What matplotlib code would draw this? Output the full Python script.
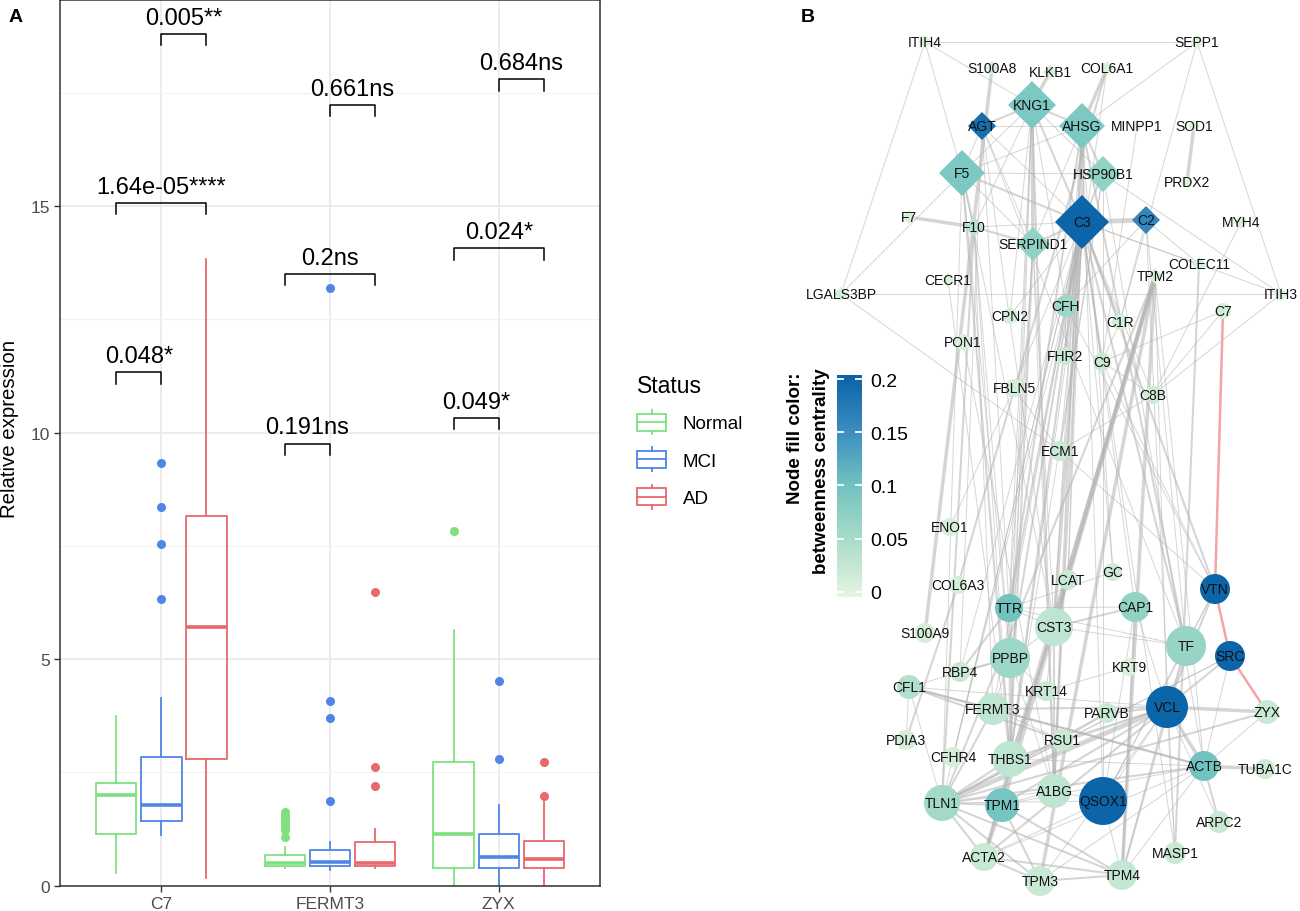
import numpy as np
import matplotlib
matplotlib.use('Agg')
import matplotlib.pyplot as plt
from matplotlib.colors import LinearSegmentedColormap, Normalize
from matplotlib.cm import ScalarMappable
from matplotlib.legend_handler import HandlerBase
from matplotlib.patches import Rectangle, Patch
from matplotlib.lines import Line2D

plt.rcParams['font.family'] = ['Liberation Sans', 'DejaVu Sans']

# ---------------- Panel A data ----------------
genes = ['C7', 'FERMT3', 'ZYX']
status = ['Normal', 'MCI', 'AD']
status_colors = ['#7FE07F', '#4F86E6', '#E8686B']

# whislo, q1, median, q3, whishi for Normal, MCI, AD
c7_stats = [[0.28, 1.15, 2.00, 2.26, 3.75],
            [1.12, 1.43, 1.78, 2.83, 4.15],
            [0.18, 2.79, 5.70, 8.16, 13.84]]
fermt3_stats = [[0.40, 0.43, 0.51, 0.68, 0.85],
                [0.35, 0.43, 0.53, 0.79, 0.96],
                [0.40, 0.44, 0.51, 0.96, 1.25]]
zyx_stats = [[0.00, 0.38, 1.15, 2.72, 5.64],
             [0.00, 0.38, 0.63, 1.15, 1.78],
             [0.00, 0.40, 0.60, 0.99, 1.84]]
c7_outliers = [[], [9.34, 8.35, 7.55, 6.33], []]
fermt3_outliers = [[1.07, 1.22, 1.30, 1.38, 1.45, 1.52, 1.58, 1.62],
                   [13.2, 4.07, 3.70, 1.86],
                   [6.49, 2.61, 2.21]]
zyx_outliers = [[7.83], [4.52, 2.79], [2.72, 1.99]]

# significance brackets: gene index, status a, status b, height, label
br_gene = [0, 0, 0, 1, 1, 1, 2, 2, 2]
br_a = [0, 0, 1, 0, 0, 1, 0, 0, 1]
br_b = [1, 2, 2, 1, 2, 2, 1, 2, 2]
br_y = [11.33, 15.07, 18.80, 9.76, 13.50, 17.23, 10.32, 14.07, 17.80]
br_label = ['0.048*', '1.64e-05****', '0.005**',
            '0.191ns', '0.2ns', '0.661ns',
            '0.049*', '0.024*', '0.684ns']

# ---------------- Panel B data ----------------
node_name = ['ITIH4', 'SEPP1', 'S100A8', 'KLKB1', 'COL6A1', 'KNG1', 'AGT', 'AHSG',
             'MINPP1', 'SOD1', 'F5', 'HSP90B1', 'PRDX2', 'F7', 'F10', 'C3', 'C2',
             'SERPIND1', 'MYH4', 'CECR1', 'TPM2', 'COLEC11', 'LGALS3BP', 'ITIH3',
             'CFH', 'CPN2', 'C1R', 'C7', 'PON1', 'FHR2', 'C9', 'FBLN5', 'C8B', 'ECM1',
             'ENO1', 'COL6A3', 'LCAT', 'GC', 'VTN', 'TTR', 'CAP1', 'CST3', 'S100A9',
             'TF', 'SRC', 'PPBP', 'RBP4', 'KRT9', 'CFL1', 'KRT14', 'FERMT3', 'VCL',
             'PARVB', 'ZYX', 'PDIA3', 'RSU1', 'CFHR4', 'THBS1', 'ACTB', 'TUBA1C',
             'A1BG', 'QSOX1', 'TLN1', 'TPM1', 'ARPC2', 'MASP1', 'ACTA2', 'TPM4', 'TPM3']
node_x = [925, 1197, 992, 1050, 1107, 1032, 982, 1082,
          1137, 1194, 962, 1103, 1187, 909, 974, 1082, 1146,
          1033, 1241, 948, 1155, 1199, 841, 1281,
          1066, 1010, 1120, 1223, 963, 1065, 1102, 1014, 1153, 1060,
          950, 958, 1068, 1113, 1215, 1009, 1135, 1054, 925,
          1186, 1230, 1010, 960, 1129, 909, 1046, 993, 1167,
          1107, 1267, 906, 1062, 953, 1010, 1204, 1265,
          1054, 1103, 942, 1002, 1219, 1175, 984, 1122, 1040]
node_y = [43, 43, 69, 73, 69, 106, 127, 127,
          127, 127, 174, 175, 183, 218, 228, 223, 221,
          245, 223, 281, 277, 265, 295, 295,
          307, 317, 323, 312, 343, 357, 363, 389, 396, 452,
          528, 586, 581, 573, 590, 609, 608, 628, 634,
          647, 657, 659, 673, 668, 688, 692, 710, 708,
          714, 713, 741, 741, 758, 760, 767, 770,
          792, 802, 804, 806, 823, 854, 858, 876, 882]
node_diamond = [1] * 24 + [0] * 45
# half-diagonal (diamonds) or radius (circles), in layout units
node_size = [7, 7, 7, 7, 7, 24, 14, 23,
             6, 6, 23, 18, 6, 7, 10, 27, 14,
             17, 7, 7, 8, 7, 7, 7,
             11, 8, 8, 8, 8, 9, 9, 9, 9, 10,
             9, 9, 10, 9, 15, 14, 15, 19, 10,
             20, 15, 20, 10, 9, 12, 10, 16, 21,
             10, 12, 10, 11, 10, 18, 15, 10,
             17, 24, 18, 17, 11, 11, 14, 15, 15]
betweenness = [0.005, 0.005, 0.005, 0.005, 0.005, 0.09, 0.19, 0.09,
               0.0, 0.0, 0.09, 0.07, 0.0, 0.01, 0.035, 0.2, 0.16,
               0.07, 0.005, 0.005, 0.01, 0.01, 0.01, 0.005,
               0.06, 0.01, 0.01, 0.01, 0.005, 0.02, 0.02, 0.01, 0.015, 0.02,
               0.01, 0.01, 0.02, 0.015, 0.2, 0.1, 0.07, 0.03, 0.01,
               0.065, 0.2, 0.06, 0.02, 0.005, 0.04, 0.02, 0.03, 0.2,
               0.02, 0.02, 0.01, 0.02, 0.01, 0.03, 0.1, 0.015,
               0.03, 0.2, 0.055, 0.095, 0.02, 0.02, 0.02, 0.025, 0.02]

edges = [
    ('ITIH4', 'SEPP1', 1), ('ITIH4', 'LGALS3BP', 1), ('ITIH4', 'F5', 1), ('ITIH4', 'KNG1', 1),
    ('SEPP1', 'ITIH3', 1), ('SEPP1', 'AHSG', 1), ('SEPP1', 'C1R', 1),
    ('LGALS3BP', 'ITIH3', 1), ('LGALS3BP', 'ECM1', 1), ('LGALS3BP', 'F5', 1),
    ('ITIH3', 'C8B', 1), ('ITIH3', 'HSP90B1', 1), ('MYH4', 'C8B', 1),
    ('SOD1', 'PRDX2', 3), ('MINPP1', 'C9', 1),
    ('C7', 'C9', 1), ('C7', 'C8B', 1),
    ('C3', 'C2', 4), ('C3', 'CFH', 4), ('C3', 'KNG1', 2), ('C3', 'AHSG', 3), ('C3', 'F5', 2),
    ('C3', 'HSP90B1', 2), ('C3', 'SERPIND1', 2), ('C3', 'AGT', 1), ('C3', 'F10', 1),
    ('C3', 'C1R', 2), ('C3', 'C9', 2), ('C3', 'FHR2', 2), ('C3', 'C8B', 1), ('C3', 'CPN2', 1),
    ('C3', 'CST3', 3), ('C3', 'TTR', 2), ('C3', 'THBS1', 2), ('C3', 'PPBP', 2), ('C3', 'TF', 2),
    ('C3', 'A1BG', 2), ('C3', 'LCAT', 1), ('C3', 'FBLN5', 1), ('C3', 'CFHR4', 1), ('C3', 'ECM1', 1),
    ('C3', 'GC', 1), ('C3', 'VTN', 2), ('C3', 'RBP4', 1), ('C3', 'CAP1', 1), ('C3', 'FERMT3', 1),
    ('C3', 'TLN1', 1), ('C3', 'COLEC11', 1), ('C3', 'MASP1', 1), ('C3', 'ITIH3', 1),
    ('KNG1', 'AGT', 2), ('KNG1', 'KLKB1', 3), ('KNG1', 'AHSG', 2), ('KNG1', 'SERPIND1', 3),
    ('KNG1', 'F5', 1), ('KNG1', 'F10', 1), ('KNG1', 'CFH', 1), ('KNG1', 'A1BG', 2),
    ('KNG1', 'THBS1', 1), ('KNG1', 'PPBP', 1), ('KNG1', 'TTR', 1), ('KNG1', 'HSP90B1', 1),
    ('AHSG', 'COL6A1', 3), ('AHSG', 'HSP90B1', 2), ('AHSG', 'F5', 1), ('AHSG', 'TTR', 2),
    ('AHSG', 'CST3', 1), ('AHSG', 'A1BG', 2), ('AHSG', 'TF', 2), ('AHSG', 'SERPIND1', 1),
    ('AHSG', 'FHR2', 1), ('AHSG', 'LCAT', 1), ('AHSG', 'GC', 1), ('AHSG', 'AGT', 1),
    ('AHSG', 'QSOX1', 1),
    ('F5', 'F10', 2), ('F5', 'SERPIND1', 1), ('F5', 'THBS1', 2), ('F5', 'PPBP', 1),
    ('F5', 'TLN1', 1), ('F5', 'HSP90B1', 1), ('F5', 'AGT', 1), ('F5', 'CST3', 1),
    ('AGT', 'SERPIND1', 1), ('AGT', 'TTR', 1), ('AGT', 'RBP4', 1), ('AGT', 'CST3', 1),
    ('AGT', 'TF', 1), ('S100A8', 'S100A9', 3),
    ('HSP90B1', 'THBS1', 1), ('HSP90B1', 'ECM1', 1), ('HSP90B1', 'ACTB', 1), ('HSP90B1', 'QSOX1', 1),
    ('F10', 'F7', 3), ('F10', 'SERPIND1', 2), ('F10', 'TLN1', 2), ('F10', 'THBS1', 1),
    ('F10', 'FERMT3', 1), ('F10', 'PPBP', 1),
    ('SERPIND1', 'THBS1', 2), ('SERPIND1', 'CST3', 1), ('SERPIND1', 'A1BG', 1),
    ('SERPIND1', 'PPBP', 1), ('SERPIND1', 'TTR', 1),
    ('C2', 'CFH', 1), ('C2', 'TF', 1), ('C2', 'MASP1', 1), ('C2', 'C1R', 1), ('C2', 'COLEC11', 1),
    ('TPM2', 'TPM1', 4), ('TPM2', 'TPM3', 3), ('TPM2', 'TPM4', 3), ('TPM2', 'ACTA2', 3),
    ('TPM2', 'TLN1', 2), ('TPM2', 'VCL', 1), ('TPM2', 'ACTB', 1), ('TPM2', 'CST3', 2),
    ('TPM2', 'THBS1', 1),
    ('VCL', 'ZYX', 3), ('VCL', 'TLN1', 4), ('VCL', 'ACTB', 3), ('VCL', 'PARVB', 2), ('VCL', 'SRC', 2),
    ('VCL', 'TPM1', 2), ('VCL', 'THBS1', 2), ('VCL', 'ACTA2', 2), ('VCL', 'QSOX1', 1),
    ('VCL', 'FERMT3', 2), ('VCL', 'RSU1', 1), ('VCL', 'TPM4', 1), ('VCL', 'TF', 1),
    ('VCL', 'MASP1', 1), ('VCL', 'CFL1', 1), ('VCL', 'TPM3', 1), ('VCL', 'ARPC2', 1),
    ('VCL', 'VTN', 2), ('VCL', 'CAP1', 1),
    ('TLN1', 'TPM1', 2), ('TLN1', 'ACTA2', 2), ('TLN1', 'TPM3', 2), ('TLN1', 'TPM4', 2),
    ('TLN1', 'ZYX', 2), ('TLN1', 'ACTB', 2), ('TLN1', 'FERMT3', 2), ('TLN1', 'THBS1', 2),
    ('TLN1', 'RSU1', 1), ('TLN1', 'A1BG', 1), ('TLN1', 'QSOX1', 1), ('TLN1', 'PARVB', 2),
    ('TLN1', 'SRC', 1), ('TLN1', 'CFL1', 1),
    ('ACTB', 'TUBA1C', 3), ('ACTB', 'ARPC2', 2), ('ACTB', 'CFL1', 2), ('ACTB', 'TPM1', 1),
    ('ACTB', 'ACTA2', 1), ('ACTB', 'TPM3', 1), ('ACTB', 'TPM4', 1), ('ACTB', 'THBS1', 1),
    ('ACTB', 'FERMT3', 2), ('ACTB', 'ZYX', 1), ('ACTB', 'SRC', 1),
    ('TPM1', 'TPM3', 2), ('TPM1', 'TPM4', 2), ('TPM1', 'ACTA2', 3), ('TPM1', 'A1BG', 1),
    ('TPM1', 'THBS1', 1), ('TPM3', 'TPM4', 2), ('TPM3', 'ACTA2', 2), ('TPM4', 'ACTA2', 2),
    ('TPM4', 'TF', 2), ('TPM4', 'CAP1', 2), ('TPM4', 'QSOX1', 1),
    ('ACTA2', 'THBS1', 1), ('ACTA2', 'QSOX1', 1),
    ('PPBP', 'THBS1', 3), ('PPBP', 'TTR', 2), ('PPBP', 'RBP4', 2), ('PPBP', 'CST3', 1),
    ('PPBP', 'A1BG', 1), ('PPBP', 'FERMT3', 1), ('PPBP', 'KRT14', 1),
    ('TTR', 'RBP4', 2), ('TTR', 'CST3', 1), ('TTR', 'CAP1', 1), ('TTR', 'TF', 1),
    ('CST3', 'CAP1', 2), ('CST3', 'TF', 1), ('CST3', 'A1BG', 2), ('CST3', 'THBS1', 2),
    ('CST3', 'KRT14', 1), ('CST3', 'LCAT', 2),
    ('CFL1', 'FERMT3', 2), ('CFL1', 'RSU1', 2), ('CFL1', 'PDIA3', 1), ('CFL1', 'PPBP', 1),
    ('PDIA3', 'COL6A3', 2), ('COL6A1', 'COL6A3', 2), ('COL6A1', 'THBS1', 1),
    ('KRT9', 'KRT14', 1), ('RSU1', 'PARVB', 1), ('RSU1', 'FERMT3', 1),
    ('ECM1', 'C8B', 1), ('ECM1', 'VTN', 1), ('ECM1', 'FBLN5', 1),
    ('VTN', 'TF', 1), ('VTN', 'QSOX1', 1), ('VTN', 'C9', 1), ('VTN', 'CFH', 1),
    ('SRC', 'TLN1', 1), ('QSOX1', 'TF', 1), ('QSOX1', 'CAP1', 1), ('QSOX1', 'A1BG', 1),
    ('C9', 'C8B', 1), ('COLEC11', 'MASP1', 2),
    ('CECR1', 'THBS1', 1), ('PON1', 'A1BG', 1), ('CPN2', 'KNG1', 1), ('ENO1', 'FBLN5', 1),
    ('GC', 'TTR', 1), ('CFHR4', 'CFH', 1), ('FHR2', 'CFH', 1), ('C1R', 'C9', 1),
]
pink_edges = [('C7', 'VTN'), ('VTN', 'SRC'), ('SRC', 'ZYX')]

# ---------------- Figure ----------------
W, H = 1300, 912
fig = plt.figure(figsize=(W / 100, H / 100), dpi=100)

# Panel A
ax = fig.add_axes([60 / W, 25 / H, 540 / W, 886 / H])
all_stats = [c7_stats, fermt3_stats, zyx_stats]
all_out = [c7_outliers, fermt3_outliers, zyx_outliers]
dodge = 0.267
for g in range(len(genes)):
    for s in range(len(status)):
        lo, q1, med, q3, hi = all_stats[g][s]
        c = status_colors[s]
        st = dict(whislo=lo, q1=q1, med=med, q3=q3, whishi=hi, fliers=all_out[g][s])
        ax.bxp([st], positions=[g + 1 + (s - 1) * dodge], widths=0.24, showcaps=False,
               boxprops=dict(color=c, lw=1.3), whiskerprops=dict(color=c, lw=1.3),
               medianprops=dict(color=c, lw=2.6),
               flierprops=dict(marker='o', markerfacecolor=c, markeredgecolor='none',
                               markersize=6.5), manage_ticks=False)

for g, a, b, y, lab in zip(br_gene, br_a, br_b, br_y, br_label):
    x1 = g + 1 + (a - 1) * dodge
    x2 = g + 1 + (b - 1) * dodge
    ax.plot([x1, x1, x2, x2], [y - 0.25, y, y, y - 0.25], color='black', lw=1.1)
    ax.text((x1 + x2) / 2, y + 0.12, lab, ha='center', va='bottom', fontsize=17)

ax.set_xlim(0.4, 3.6)
ax.set_ylim(-0.007, 19.55)
ax.set_xticks([1, 2, 3])
ax.set_xticklabels(genes)
ax.set_yticks([0, 5, 10, 15])
ax.set_yticks([2.5, 7.5, 12.5, 17.5], minor=True)
ax.grid(which='major', color='#EBEBEB', lw=1.3)
ax.grid(which='minor', axis='y', color='#F2F2F2', lw=0.8)
ax.set_axisbelow(True)
ax.tick_params(which='major', length=4, width=1, color='#333333', labelcolor='#4D4D4D',
               labelsize=12.5, pad=3)
ax.tick_params(which='minor', length=0)
for sp in ax.spines.values():
    sp.set_color('#333333')
    sp.set_linewidth(1.1)
fig.text(10 / W, 1 - 429 / H, 'Relative expression', rotation=90, ha='center', va='center',
         fontsize=14.7)


class BoxKey(HandlerBase):
    def create_artists(self, legend, orig_handle, xdescent, ydescent, width, height,
                       fontsize, trans):
        c = orig_handle.get_edgecolor()
        x0, y0 = -xdescent, -ydescent
        box = Rectangle((x0, y0 + 0.15 * height), width, 0.7 * height, fill=False,
                        ec=c, lw=1.3, transform=trans)
        med = Line2D([x0, x0 + width], [y0 + 0.5 * height] * 2, color=c, lw=1.3,
                     transform=trans)
        wt = Line2D([x0 + width / 2] * 2, [y0 + 0.85 * height, y0 + height], color=c,
                    lw=1.3, transform=trans)
        wb = Line2D([x0 + width / 2] * 2, [y0, y0 + 0.15 * height], color=c, lw=1.3,
                    transform=trans)
        return [box, med, wt, wb]


handles = [Patch(edgecolor=c, facecolor='none') for c in status_colors]
fig.legend(handles, status, handler_map={Patch: BoxKey()}, title='Status',
           loc='upper left', bbox_to_anchor=(637 / W, 1 - 375 / H), frameon=False,
           fontsize=13.5, title_fontsize=16.5, handlelength=1.55, handleheight=1.6,
           labelspacing=0.7, handletextpad=0.9, borderpad=0, borderaxespad=0,
           alignment='left')

# Panel B
cmap = LinearSegmentedColormap.from_list(
    'btw', ['#E6F4E0', '#AADDC9', '#72C3C0', '#3A8DBF', '#0A62A7'])
norm = Normalize(vmin=-0.005, vmax=0.204)

axn = fig.add_axes([780 / W, 0, 520 / W, 1])
axn.set_xlim(780, 1300)
axn.set_ylim(912, 0)
axn.axis('off')

pos = {n: (x, y) for n, x, y in zip(node_name, node_x, node_y)}
px2pt = 0.72
for a, b, w in edges:
    (x1, y1), (x2, y2) = pos[a], pos[b]
    axn.plot([x1, x2], [y1, y2], color='#B4B4B4', alpha=0.55, lw=[0, 0.7, 1.5, 2.5, 3.5][w],
             solid_capstyle='butt', zorder=1)
for a, b in pink_edges:
    (x1, y1), (x2, y2) = pos[a], pos[b]
    axn.plot([x1, x2], [y1, y2], color='#F4A3A8', lw=1.8, zorder=1.5)

nx = np.array(node_x)
ny = np.array(node_y)
nsz = np.array(node_size, dtype=float)
nb = np.array(betweenness)
dia = np.array(node_diamond) == 1
axn.scatter(nx[dia], ny[dia], s=(nsz[dia] / 0.7071 * px2pt) ** 2, marker='D',
            c=nb[dia], cmap=cmap, norm=norm, linewidths=0, zorder=2)
axn.scatter(nx[~dia], ny[~dia], s=(2 * nsz[~dia] * px2pt) ** 2, marker='o',
            c=nb[~dia], cmap=cmap, norm=norm, linewidths=0, zorder=2)
for n, x, y in zip(node_name, node_x, node_y):
    axn.text(x, y, n, ha='center', va='center', fontsize=10, color='#111111', zorder=3)

cax = fig.add_axes([837 / W, 1 - 598 / H, 25 / W, 222 / H])
cb = fig.colorbar(ScalarMappable(norm=norm, cmap=cmap), cax=cax,
                  ticks=[0, 0.05, 0.1, 0.15, 0.2])
cb.outline.set_visible(False)
cb.ax.set_yticklabels(['0', '0.05', '0.1', '0.15', '0.2'])
cb.ax.yaxis.set_ticks_position('both')
cb.ax.tick_params(length=5, width=1.3, color='white', direction='in', labelsize=14,
                  pad=6, labelleft=False, labelright=True)
fig.text(795 / W, 1 - 372 / H, 'Node fill color:', rotation=90, ha='center', va='top',
         fontsize=13.5, fontweight='bold')
fig.text(822 / W, 1 - 368 / H, 'betweenness centrality', rotation=90, ha='center',
         va='top', fontsize=13.5, fontweight='bold')

fig.text(16 / W, 1 - 17 / H, 'A', fontsize=14, fontweight='bold', ha='center', va='center')
fig.text(808 / W, 1 - 17 / H, 'B', fontsize=14, fontweight='bold', ha='center', va='center')

fig.savefig('out.png', dpi=100)
